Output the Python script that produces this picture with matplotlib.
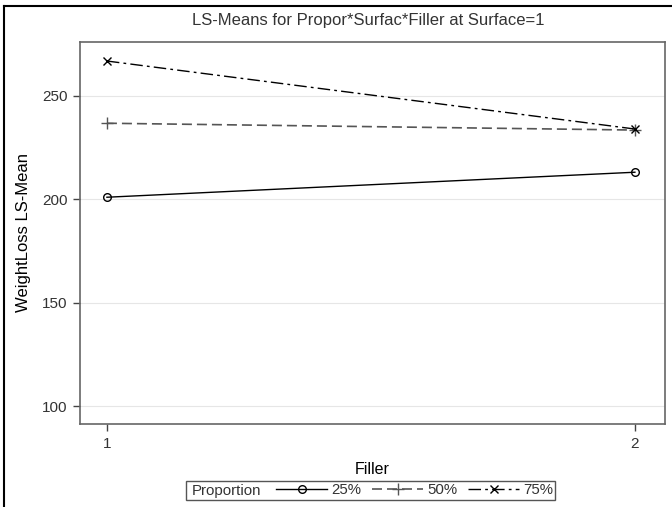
import matplotlib
matplotlib.use("Agg")
import matplotlib.pyplot as plt
from matplotlib.lines import Line2D
from matplotlib.patches import Rectangle

# LS-means of WeightLoss by Filler, one line per Proportion (Surface=1)
filler = [1, 2]
prop_labels = ["25%", "50%", "75%"]
lsmean_25 = [201.0, 213.1]
lsmean_50 = [236.8, 233.5]
lsmean_75 = [266.9, 234.0]
yticks = [100, 150, 200, 250]

W, H = 672, 507
TXT = "#333333"
plt.rcParams.update({
    "font.family": ["Liberation Sans", "DejaVu Sans"],
    "font.size": 10,
    "text.color": TXT,
    "xtick.color": "#444444",
    "ytick.color": "#444444",
    "xtick.labelcolor": TXT,
    "ytick.labelcolor": TXT,
})

fig = plt.figure(figsize=(W / 100, H / 100), dpi=100)
fig.patch.set_facecolor("white")


def px(x0, y0, x1, y1):
    """pixel box (top-left origin) -> figure fraction rect"""
    return [x0 / W, 1 - y1 / H, (x1 - x0) / W, (y1 - y0) / H]


ax = fig.add_axes(px(80, 42, 665, 424))

styles = [
    dict(color="black", linestyle="-", marker="o", mfc="none", ms=5.5, lw=1.0),
    dict(color="#555555", linestyle=(0, (6, 3)), marker="+", ms=8, lw=1.2),
    dict(color="black", linestyle=(0, (9, 3, 2, 3)), marker="x", ms=6, lw=1.0),
]
handles = []
for vals, st in zip([lsmean_25, lsmean_50, lsmean_75], styles):
    (ln,) = ax.plot(filler, vals, mec=st["color"], mew=1.0, **st)
    handles.append(ln)

ax.set_xlim(0.949, 2.057)
ax.set_ylim(91.3, 276.1)
ax.set_xticks(filler)
ax.set_yticks(yticks)
ax.yaxis.grid(True, color="#e6e6e6", lw=0.8)
ax.set_axisbelow(True)
ax.tick_params(direction="out", length=5, width=1, labelsize=11, pad=4)
for s in ax.spines.values():
    s.set_color("#666666")
    s.set_linewidth(1.2)

ax.set_xlabel("Filler", fontsize=11.5, labelpad=8)
ax.set_ylabel("WeightLoss LS-Mean", fontsize=12, labelpad=8)

fig.text(368 / W, 1 - 20 / H, "LS-Means for Propor*Surfac*Filler at Surface=1",
         ha="center", va="center", fontsize=12)

# legend: boxed row with "Proportion" caption on the left
fig.patches.append(Rectangle((186 / W, 1 - 500 / H), 369 / W, 19 / H,
                             transform=fig.transFigure, fill=False,
                             edgecolor="#555555", lw=1.0))
fig.text(192 / W, 1 - 490.5 / H, "Proportion", ha="left", va="center", fontsize=10.8)
fig.legend(handles, prop_labels, ncol=3, frameon=False, loc="center left",
           bbox_to_anchor=(276 / W, 1 - 490.5 / H), handlelength=3.4,
           handletextpad=0.3, columnspacing=0.7, numpoints=1, fontsize=10.8,
           borderpad=0, borderaxespad=0)

# outer frame (left and top edges only)
fig.add_artist(Line2D([4 / W, 4 / W], [0, 1 - 6 / H], transform=fig.transFigure,
                      color="black", lw=1.5))
fig.add_artist(Line2D([4 / W, 1], [1 - 6 / H, 1 - 6 / H], transform=fig.transFigure,
                      color="black", lw=1.5))

fig.savefig("out.png", dpi=100)
